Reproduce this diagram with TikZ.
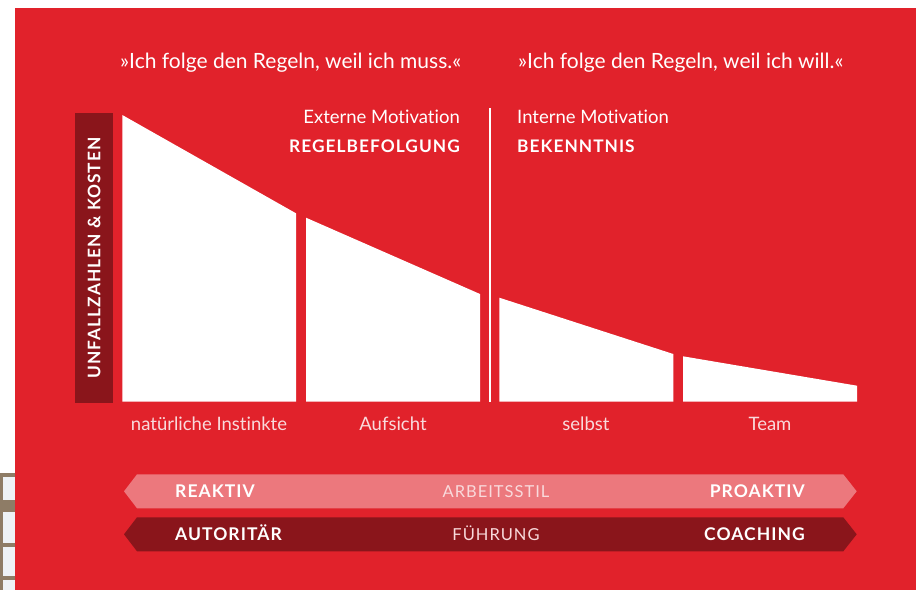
\documentclass[tikz,border=0pt]{standalone}
\usepackage{fontspec}
\setmainfont{Lato}[Ligatures={NoCommon,NoRare}]
\newfontfamily\capsfont{Lato}[LetterSpace=6,Ligatures={NoCommon,NoRare}]
\usetikzlibrary{positioning}

\definecolor{bgred}{HTML}{E1222B}
\definecolor{darkred}{HTML}{8A151B}
\definecolor{lightred}{HTML}{EC787D}
\definecolor{palepink}{HTML}{F9DADC}
\definecolor{frame}{HTML}{8E7C66}
\definecolor{pane}{HTML}{EEF2F6}

\begin{document}
\begin{tikzpicture}[x=1pt,y=-1pt,
    bar/.style={fill=white},
    quote/.style={text=white,font=\fontsize{21}{22}\selectfont,inner sep=0,anchor=base west},
    motiv/.style={text=white,font=\fontsize{18.5}{20}\selectfont,inner sep=0},
    head/.style={text=white,font=\capsfont\bfseries\fontsize{17.3}{20}\selectfont,inner sep=0},
    stage/.style={text=palepink,font=\fontsize{18.5}{20}\selectfont,inner sep=0,anchor=base},
    bandbold/.style={text=white,font=\capsfont\bfseries\fontsize{17.5}{20}\selectfont,inner sep=0},
    bandlight/.style={text=palepink,font=\capsfont\fontsize{16.5}{20}\selectfont,inner sep=0,anchor=base}]

  \useasboundingbox (0,0) rectangle (916,590);
  \fill[white] (0,0) rectangle (916,590);
  \fill[bgred] (15,8) rectangle (916,590);

  % window strip at the left edge
  \fill[frame] (0,473) rectangle (15,590);
  \foreach \ya/\yb in {477/500, 512/543, 547/576, 580/590}
    \fill[pane] (3,\ya) rectangle (15,\yb);

  % quotes
  \node[quote] (muss) at (120,68.5) {»Ich folge den Regeln, weil ich muss.«};
  \node[quote] (will) at (518,68.5) {»Ich folge den Regeln, weil ich will.«};

  % headings either side of the divider
  \node[motiv,anchor=base east] (extern) at (460,123.3) {Externe Motivation};
  \node[head,anchor=base east] (regel) at (460,152.3) {REGELBEFOLGUNG};
  \node[motiv,anchor=base west] (intern) at (517,123.3) {Interne Motivation};
  \node[head,anchor=base west] (bekenntnis) at (517,152.3) {BEKENNTNIS};
  \draw[white,line width=2pt] (489.5,108) -- (489.5,402);

  % y axis label
  \fill[darkred] (75,113.3) rectangle (112.7,403.3);
  \node[head,rotate=90] (axis) at (94,258) {UNFALLZAHLEN \& KOSTEN};

  % falling bars
  \fill[bar] (122.3,401.7) -- (122.3,115) -- (296,213.3) -- (296,401.7) -- cycle;
  \fill[bar] (306,401.7) -- (306,217.7) -- (480,294) -- (480,401.7) -- cycle;
  \fill[bar] (499.3,401.7) -- (499.3,297.7) -- (673.3,354) -- (673.3,401.7) -- cycle;
  \fill[bar] (683,401.7) -- (683,356.3) -- (857,385.7) -- (857,401.7) -- cycle;

  \node[stage] (instinkt) at (209,430) {natürliche Instinkte};
  \node[stage] (aufsicht) at (393,430) {Aufsicht};
  \node[stage] (selbst) at (586,430) {selbst};
  \node[stage] (team) at (770,430) {Team};

  % double arrow bands
  \foreach \y/\col in {474.3/lightred, 517.3/darkred}
    \fill[\col] (124,\y+17) -- (137,\y) -- (843.3,\y) -- (856.7,\y+17)
      -- (843.3,\y+34) -- (137,\y+34) -- cycle;

  \node[bandbold,anchor=base west] (reaktiv) at (175,497.3) {REAKTIV};
  \node[bandlight] (stil) at (496,497.3) {ARBEITSSTIL};
  \node[bandbold,anchor=base east] (proaktiv) at (805,497.3) {PROAKTIV};
  \node[bandbold,anchor=base west] (autoritaer) at (175,540.3) {AUTORITÄR};
  \node[bandlight] (fuehrung) at (496,540.3) {FÜHRUNG};
  \node[bandbold,anchor=base east] (coaching) at (805,540.3) {COACHING};
\end{tikzpicture}
\end{document}
